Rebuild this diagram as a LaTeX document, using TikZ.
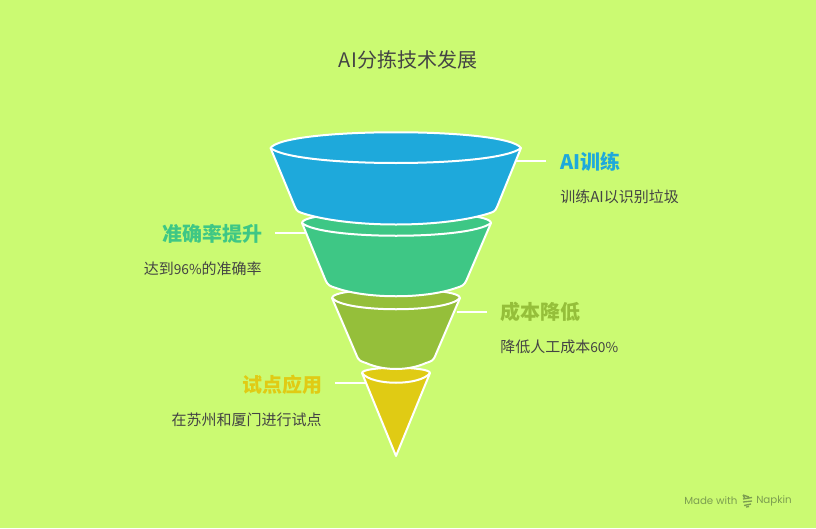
\documentclass[tikz,border=0pt]{standalone}
\usepackage{fontspec}
\setmainfont{Noto Sans CJK SC}
\newfontfamily\wmfont{Poppins}
\newcommand{\smallnum}[1]{{\fontsize{10.3pt}{14pt}\selectfont #1}}
\definecolor{bgc}{HTML}{CBFA72}
\definecolor{blueC}{HTML}{1EA9DB}
\definecolor{greenC}{HTML}{3EC785}
\definecolor{oliveC}{HTML}{95BF3A}
\definecolor{yellowC}{HTML}{E0CB14}
\definecolor{textC}{HTML}{444444}
\definecolor{wmC}{HTML}{7C9E50}
\tikzset{
 funnel/.style={draw=white,line width=1.5pt,line join=round},
 lead/.style={draw=white,line width=1.1pt},
 ttl/.style={font=\fontsize{15pt}{18pt}\selectfont,text=textC,inner sep=0pt},
 head/.style={font=\fontsize{15pt}{18pt}\selectfont\bfseries,inner sep=0pt},
 desc/.style={font=\fontsize{11.25pt}{14pt}\selectfont,text=textC,inner sep=0pt},
}
\begin{document}
\begin{tikzpicture}[x=0.75pt,y=-0.75pt]
\useasboundingbox (0,0) rectangle (816,528);
\fill[bgc] (0,0) rectangle (816,528);
\node[ttl] (title) at (408,60) {AI分拣技术发展};

% yellow
\draw[funnel,fill=yellowC] (362,373) .. controls (362,366) and (430,366) .. (430,373) -- (396,456) -- cycle;
\draw[funnel] (362,373) .. controls (372,386) and (420,386) .. (430,373);
% olive
\draw[funnel,fill=oliveC] (332,298) .. controls (332,286) and (460,286) .. (460,298) -- (436,354)
  .. controls (433,362) and (431,361) .. (426,363) .. controls (408,371) and (384,371) .. (366,363)
  .. controls (361,361) and (359,362) .. (356,354) -- cycle;
\draw[funnel] (332,298) .. controls (345,313) and (447,313) .. (460,298);
% green
\draw[funnel,fill=greenC] (302,223) .. controls (302,208) and (491,208) .. (491,223) -- (467,279)
  .. controls (464,286) and (462,286) .. (456,288) .. controls (425,299) and (367,299) .. (336,288)
  .. controls (330,286) and (328,286) .. (325,279) -- cycle;
\draw[funnel] (302,223) .. controls (322,240) and (470,240) .. (491,223);
% blue
\draw[funnel,fill=blueC] (270.5,148) .. controls (285,127) and (507,127) .. (521,148) -- (497,207)
  .. controls (495,212) and (493,212) .. (487,214) .. controls (440,228) and (352,228) .. (305,214)
  .. controls (299,212) and (297,212) .. (295,207) -- cycle;
\draw[funnel] (270.5,148) .. controls (295,168) and (497,168) .. (521,148);

% labels
\node[head,text=blueC,anchor=west] (h1) at (560.5,162) {AI训练};
\node[desc,anchor=west] (d1) at (560,197) {训练AI以识别垃圾};
\node[head,text=greenC,anchor=east] (h2) at (262.5,234) {准确率提升};
\node[desc,anchor=east] (d2) at (262,269) {达到\smallnum{96\%}的准确率};
\node[head,text=oliveC,anchor=west] (h3) at (500,312) {成本降低};
\node[desc,anchor=west] (d3) at (500,347) {降低人工成本\smallnum{60\%}};
\node[head,text=yellowC,anchor=east] (h4) at (322.5,385) {试点应用};
\node[desc,anchor=east] (d4) at (322,420) {在苏州和厦门进行试点};

% leader lines
\coordinate (a1) at (516,161); \coordinate (b1) at (546,161);
\coordinate (a2) at (305,233); \coordinate (b2) at (275,233);
\coordinate (a3) at (457,312); \coordinate (b3) at (487,312);
\coordinate (a4) at (366,383); \coordinate (b4) at (335,383);
\draw[lead] (a1) -- (b1);
\draw[lead] (a2) -- (b2);
\draw[lead] (a3) -- (b3);
\draw[lead] (a4) -- (b4);

% watermark
\node[font=\wmfont\fontsize{7.7pt}{10pt}\selectfont,text=wmC,inner sep=0pt,anchor=west] (wm1) at (684,500.5) {Made with};
\node[font=\wmfont\fontsize{7.7pt}{10pt}\selectfont,text=wmC,inner sep=0pt,anchor=west] (wm2) at (756,500.5) {Napkin};
\draw[wmC,line width=1pt] (743,495) -- (749,497) (743,499) -- (752,497.5) (743,502) -- (752,501) (744,505.5) -- (751,504) (746,507) -- (749,506.5) (743,495) -- (745,499);
\end{tikzpicture}
\end{document}
